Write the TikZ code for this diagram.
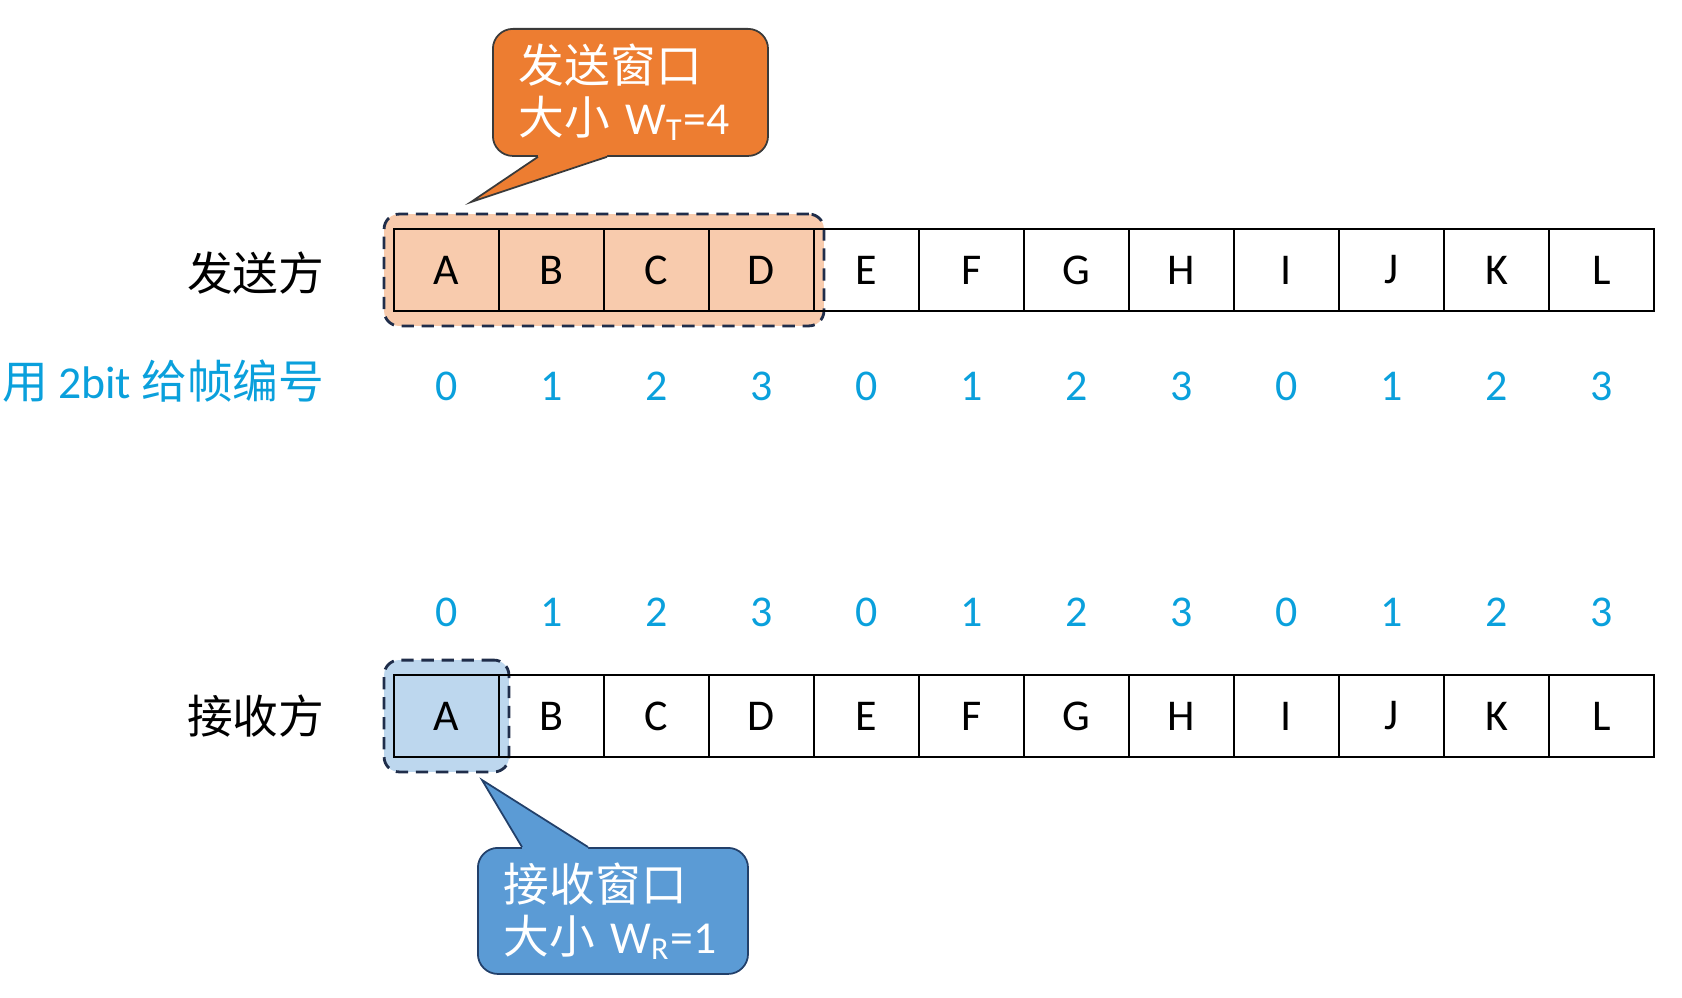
\documentclass[tikz,border=0pt]{standalone}
\usepackage{fontspec}
\setmainfont{Carlito}
\newfontfamily\cjk{Noto Sans CJK SC}
\usetikzlibrary{backgrounds,fit,calc}

\definecolor{noteorange}{HTML}{ED7D31}
\definecolor{winorange}{HTML}{F8CBAD}
\definecolor{noteblue}{HTML}{5B9BD5}
\definecolor{winblue}{HTML}{BDD7EE}
\definecolor{seqblue}{HTML}{0AA0DC}
\definecolor{dashnavy}{HTML}{1F2D4A}
\definecolor{notedark}{HTML}{3A3A3A}
\definecolor{bluedark}{HTML}{22406A}

\tikzset{
    cell/.style={draw, line width=0.5pt, minimum width=1.05cm, minimum height=0.82cm, inner sep=0pt, font=\fontsize{12.5}{14}\selectfont},
    seqno/.style={text=seqblue, font=\fontsize{12.5}{14}\selectfont},
    side/.style={anchor=east, inner sep=0pt, font=\fontsize{13}{15}\selectfont},
    window/.style={draw=dashnavy, dash pattern=on 3.5pt off 2.2pt, line width=0.8pt, rounded corners=0.15cm, inner xsep=0.09cm, inner ysep=0.14cm},
    note/.style={rounded corners=0.2cm, line width=0.5pt, text=white, align=left, anchor=north west, inner xsep=0.26cm, font=\fontsize{13}{14.8}\selectfont}
}

\begin{document}
\begin{tikzpicture}[x=0.01cm, y=-0.01cm]
                \useasboundingbox (0,0) rectangle (1682,997);

                % frames and their sequence numbers
                \foreach \ch [count=\i] in {A,B,C,D,E,F,G,H,I,J,K,L} {
                    \pgfmathsetmacro\cx{394+105*\i-52.5}
                    \pgfmathtruncatemacro\seq{mod(\i-1,4)}
                    \node[cell] (s\i) at (\cx, 270) {\ch};
                    \node[cell] (r\i) at (\cx, 716) {\ch};
                    \node[seqno] (sn\i) at (\cx, 386) {\seq};
                    \node[seqno] (rn\i) at (\cx, 612) {\seq};
                }

                \begin{scope}[on background layer]
                    \node[window, fill=winorange, fit=(s1)(s4)] (sendwin) {};
                    \node[window, fill=winblue, fit=(r1)] (recvwin) {};
                \end{scope}

                \node[side] (sender) at (325, 273) {\cjk 发送方};
                \node[side] (receiver) at (325, 716) {\cjk 接收方};
                \node[side, text=seqblue] (numbering) at (325, 381) {{\cjk 用} 2bit {\cjk 给帧编号}};

                % callouts
                \node[note, fill=noteorange, draw=notedark, minimum height=1.27cm, text width=2.23cm] (sendnote) at (492, 28)
                    {{\cjk 发送窗口}\\{\cjk 大小} W\textsubscript{T}=4};
                \coordinate (sendtip) at (471, 202);
                \fill[noteorange] ($(sendnote.south west)+(46,0)$) -- (sendtip) -- ($(sendnote.south west)+(115,0)$)
                    -- ($(sendnote.south west)+(115,-4)$) -- ($(sendnote.south west)+(46,-4)$) -- cycle;
                \draw[notedark, line width=0.5pt] ($(sendnote.south west)+(46,0)$) -- (sendtip) -- ($(sendnote.south west)+(115,0)$);

                \node[note, fill=noteblue, draw=bluedark, minimum height=1.26cm, text width=2.18cm] (recvnote) at (477, 847)
                    {{\cjk 接收窗口}\\{\cjk 大小} W\textsubscript{R}=1};
                \coordinate (recvtip) at (482, 780);
                \fill[noteblue] ($(recvnote.north west)+(45,0)$) -- (recvtip) -- ($(recvnote.north west)+(111,0)$)
                    -- ($(recvnote.north west)+(111,4)$) -- ($(recvnote.north west)+(45,4)$) -- cycle;
                \draw[bluedark, line width=0.5pt] ($(recvnote.north west)+(45,0)$) -- (recvtip) -- ($(recvnote.north west)+(111,0)$);
\end{tikzpicture}
\end{document}
